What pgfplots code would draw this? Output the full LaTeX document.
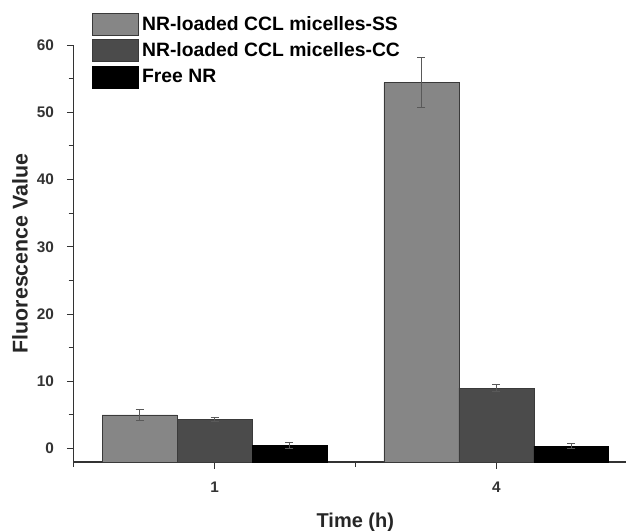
\documentclass[border=0pt]{standalone}
\usepackage{fontspec}
\setmainfont{Liberation Sans}
\usepackage{pgfplots}
\pgfplotsset{compat=1.18}

\definecolor{barSS}{HTML}{868686}
\definecolor{barCC}{HTML}{4B4B4B}
\definecolor{barFree}{HTML}{000000}
\definecolor{edge}{HTML}{3A3A3A}

\begin{document}
\begin{tikzpicture}
\begin{axis}[
    name=ax,
    scale only axis,
    width=414.3pt,
    height=312.75pt,
    axis lines=left,
    axis line style={-, line width=0.8pt, color=black!80},
    xmin=-0.5, xmax=1.46,
    ymin=-2, ymax=60,
    % bars rise from the x axis line (y=-2), as in the original
    y coord trafo/.code={\pgfmathparse{#1+2}},
    y coord inv trafo/.code={\pgfmathparse{#1-2}},
    ytick={0,10,20,30,40,50,60},
    yticklabels={0,10,20,30,40,50,60},
    minor y tick num=1,
    xtick={0,1},
    xticklabels={1,4},
    minor xtick={-0.5,0.5,1.5},
    tick align=outside,
    major tick length=5pt,
    minor tick length=3.75pt,
    tick style={line width=0.7pt, color=black!80},
    ticklabel style={font=\bfseries\fontsize{11.5}{13}\selectfont, color=black!80},
    yticklabel style={inner sep=0pt, xshift=-9.5pt},
    xticklabel style={inner sep=0pt, yshift=-10pt},
    xlabel={Time (h)},
    ylabel={Fluorescence Value},
    label style={font=\bfseries\fontsize{15}{18}\selectfont, color=black!85},
    xlabel style={at={(axis description cs:0.510,-0.1559)}, anchor=base, inner sep=0pt},
    ylabel style={at={(axis description cs:-0.1115,0.5)}, anchor=north, inner sep=0pt,
        font=\bfseries\fontsize{16}{19}\selectfont},
    ybar=0pt,
    bar width=0.266,
    error bars/y dir=both,
    error bars/y explicit,
    error bars/error bar style={line width=0.6pt, color=black!65},
    error bars/error mark options={rotate=90, mark size=3pt, line width=0.6pt, color=black!65},
    legend image code/.code={\draw[#1] (0pt,-8.25pt) rectangle (34.5pt,8.25pt);},
    legend style={at={(0.0333,1.0767)}, anchor=north west, draw=none, fill=none,
        font=\bfseries\fontsize{14.5}{17}\selectfont, row sep=2.6pt, inner sep=0pt,
        nodes={inner sep=2.4pt}},
    legend cell align=left,
]
% NR-loaded CCL micelles-SS
\addplot[fill=barSS, draw=edge, line width=0.5pt] coordinates {
    (0, 5.0) +- (0, 0.8)
    (1, 54.4) +- (0, 3.7)
};
% NR-loaded CCL micelles-CC
\addplot[fill=barCC, draw=edge, line width=0.5pt] coordinates {
    (0, 4.3) +- (0, 0.3)
    (1, 9.0) +- (0, 0.5)
};
% Free NR
\addplot[fill=barFree, draw=black, line width=0.5pt] coordinates {
    (0, 0.45) +- (0, 0.45)
    (1, 0.35) +- (0, 0.35)
};
\legend{NR-loaded CCL micelles-SS, NR-loaded CCL micelles-CC, Free NR}
\end{axis}
\pgfresetboundingbox
\path ([shift={(-55.2pt,-51pt)}]ax.south west) rectangle ([shift={(0pt,33.75pt)}]ax.north east);
\end{tikzpicture}
\end{document}
